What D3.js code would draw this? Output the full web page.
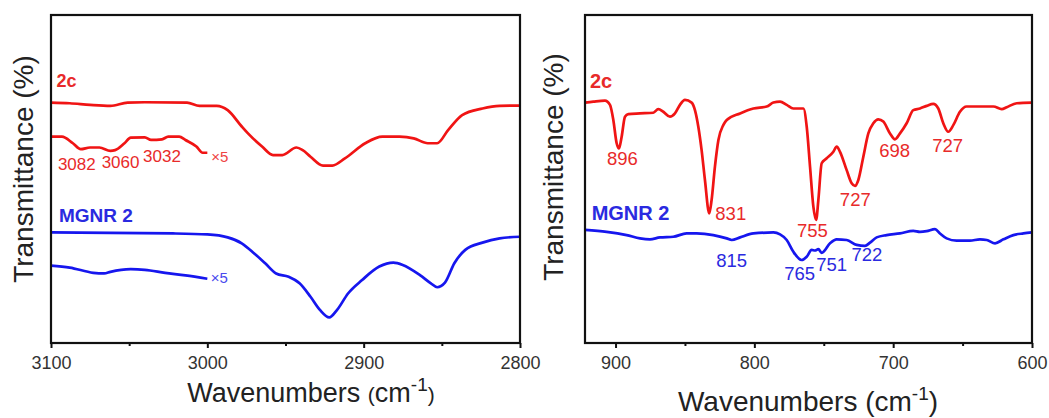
<!DOCTYPE html>
<html>
<head>
<meta charset="utf-8">
<script src="https://cdn.jsdelivr.net/npm/d3@7"></script>
<style>
  body { margin: 0; background: #fff; }
  svg text { font-family: "Liberation Sans", Arial, sans-serif; }
</style>
</head>
<body>
<div id="main"></div>
<script>
// ---- data (transmittance in arbitrary units, 0 = bottom of frame, 100 = top) ----
var leftTicks = [3100, 3000, 2900, 2800],
    leftMinor = [3050, 2950, 2850],
    rightTicks = [900, 800, 700, 600],
    rightMinor = [850, 750, 650];

var wnL2c  = [3100, 3088, 3075, 3062, 3051, 3040, 3013, 3005, 2994, 2987, 2978, 2974, 2965, 2958, 2952, 2943, 2939, 2934, 2926, 2920, 2912, 2899, 2888, 2877, 2868, 2859, 2853, 2846, 2837, 2824, 2813, 2800];
var valL2c = [73.3, 73.1, 72.6, 72.3, 73.3, 73.4, 73.3, 72.3, 72.3, 71.0, 66.0, 63.9, 59.9, 57.3, 57.3, 59.6, 58.8, 56.8, 54.1, 54.1, 56.3, 60.9, 62.9, 62.9, 62.4, 60.9, 60.9, 64.9, 69.5, 71.5, 72.3, 72.4];

var wnL2cX5  = [3100, 3093, 3086, 3081, 3075, 3069, 3062, 3059, 3053, 3049, 3040, 3036, 3029, 3025, 3018, 3014, 3007, 3003, 3000];
var valL2cX5 = [62.9, 62.9, 60.9, 59.1, 59.6, 59.6, 58.6, 58.8, 60.9, 62.6, 62.7, 61.9, 62.1, 62.9, 62.9, 61.9, 59.9, 58.0, 58.0];

var wnLMg  = [3100, 3022, 3000, 2987, 2978, 2970, 2963, 2956, 2948, 2941, 2934, 2928, 2922, 2917, 2910, 2901, 2890, 2881, 2875, 2864, 2857, 2853, 2848, 2842, 2835, 2824, 2813, 2800];
var valLMg = [33.7, 33.4, 33.1, 32.2, 30.4, 27.3, 24.3, 21.2, 20.2, 18.2, 14.1, 10.1, 7.8, 10.1, 15.1, 19.2, 23.3, 24.5, 23.8, 20.7, 18.2, 17.0, 18.4, 24.3, 28.4, 30.6, 31.9, 32.4];

var wnLMgX5  = [3100, 3088, 3073, 3066, 3062, 3049, 3040, 3027, 3014, 3000];
var valLMgX5 = [23.6, 23.0, 21.4, 21.2, 21.7, 22.5, 22.3, 21.4, 20.6, 19.6];

var wnR2c  = [922, 916, 907.6, 904, 901.6, 899.2, 897.5, 895.6, 893.2, 890.8, 882.4, 872.8, 869.2, 865.6, 860.8, 857.2, 853.6, 850, 845.2, 842.8, 840.4, 838, 835.6, 832.5, 830.8, 828.4, 825.9, 822.3, 819.9, 810.3, 800.7, 791.1, 786.3, 781.5, 776.7, 771.9, 764.7, 762.3, 759.9, 757.5, 755.5, 753.9, 751.5, 747.9, 743.1, 740.7, 738.3, 733.5, 729.9, 727.5, 725.1, 721.5, 717.9, 714.3, 710.7, 707.1, 702.3, 698.7, 695.1, 690.3, 685.5, 680.7, 675.9, 671.1, 667.5, 663.9, 660.3, 656.6, 651.9, 647.1, 637.5, 627.8, 621.8, 618.2, 611, 600];
var valR2c = [73.3, 73.6, 73.9, 72.6, 68.0, 60.9, 59.3, 62.9, 69.0, 69.8, 70.0, 70.2, 71.3, 70.5, 69.0, 70.0, 72.6, 74.1, 73.3, 71.0, 66.0, 58.8, 49.7, 39.5, 43.6, 53.8, 61.9, 66.5, 68.0, 70.0, 71.5, 72.1, 73.3, 73.6, 72.6, 71.5, 71.5, 66.0, 53.8, 41.6, 37.5, 43.6, 54.8, 56.3, 58.3, 59.9, 58.3, 52.7, 48.7, 47.9, 49.7, 56.8, 63.9, 67.0, 68.2, 67.5, 63.9, 62.1, 63.9, 67.0, 71.0, 71.5, 72.3, 72.9, 71.5, 67.0, 64.4, 66.5, 70.5, 72.1, 72.1, 72.1, 71.3, 71.9, 73.1, 73.3];

var wnRMg  = [922, 906.4, 892, 882.4, 875.2, 868, 858.4, 848.8, 841.6, 829.6, 819.9, 816.3, 810.3, 800.7, 786.3, 781.5, 776.7, 771.9, 765.9, 762.3, 758.7, 756.3, 753.9, 751.5, 745.5, 740.7, 733.5, 726.3, 720.3, 716.7, 711.9, 704.7, 695.1, 685.5, 680.7, 675.9, 669.9, 666.3, 661.5, 654.3, 644.7, 637.5, 632.6, 626.6, 620.6, 613.4, 606.2, 600];
var valRMg = [34.5, 33.9, 32.9, 31.9, 31.6, 32.2, 32.4, 33.4, 33.4, 32.9, 31.9, 31.4, 32.2, 33.4, 33.7, 33.1, 31.4, 27.8, 25.3, 26.3, 28.4, 28.2, 28.6, 27.5, 30.4, 31.6, 31.4, 29.9, 29.6, 30.6, 32.2, 32.9, 33.4, 34.2, 33.9, 34.1, 34.7, 33.4, 31.9, 31.2, 31.2, 31.6, 31.4, 30.4, 31.6, 32.9, 33.4, 33.7];

// peak labels: [text, wavenumber, value]
var leftPeaks  = [["3082", 3083.5, 52.7], ["3060", 3055.5, 53.3], ["3032", 3029, 55.3]];
var rightPeaks2c = [["896", 895, 54.3], ["831", 817, 37.5], ["755", 758.2, 32.2], ["727", 727.3, 41.8], ["698", 698.9, 56.8], ["727", 660.7, 58.1]];
var rightPeaksMg = [["815", 816.3, 23.3], ["765", 767.4, 19.2], ["751", 744.3, 22.1], ["722", 718.9, 25.1]];

var RED = "#f01414", BLUE = "#1616ee";
var RED_TXT = "#e82a2a", BLUE_TXT = "#2a2ae0";

var svg = d3.select("#main")
  .append("svg")
    .attr("width", 1049)
    .attr("height", 418);

function zip(a, b) { return a.map(function(d, i) { return [d, b[i]]; }); }

function panel(opt) {
  var x = d3.scaleLinear().domain(opt.xDomain).range([opt.x0, opt.x1]);
  var y = d3.scaleLinear().domain([0, 100]).range([opt.y1, opt.y0]);

  var g = svg.append("g");

  // major ticks with labels
  g.append("g")
    .attr("transform", "translate(0," + opt.y1 + ")")
    .call(d3.axisBottom(x).tickValues(opt.ticks).tickSize(5).tickSizeOuter(0).tickPadding(8).tickFormat(d3.format("d")))
    .call(function(a) {
      a.select(".domain").remove();
      a.selectAll("line").attr("stroke", "#111").attr("stroke-width", 2);
      a.selectAll("text").style("font-size", "18px").attr("fill", "#333");
    });

  // minor ticks
  g.append("g")
    .attr("transform", "translate(0," + opt.y1 + ")")
    .call(d3.axisBottom(x).tickValues(opt.minor).tickSize(3).tickFormat(""))
    .call(function(a) {
      a.select(".domain").remove();
      a.selectAll("line").attr("stroke", "#111").attr("stroke-width", 2);
    });

  var line = d3.line()
    .x(function(d) { return x(d[0]); })
    .y(function(d) { return y(d[1]); })
    .curve(d3.curveMonotoneX);

  opt.series.forEach(function(s) {
    g.append("path")
      .attr("d", line(zip(s.wn, s.val)))
      .attr("fill", "none")
      .attr("stroke", s.color)
      .attr("stroke-width", 2.7)
      .attr("stroke-linejoin", "round");
  });

  // frame
  g.append("rect")
    .attr("x", opt.x0)
    .attr("y", opt.y0)
    .attr("width", opt.x1 - opt.x0)
    .attr("height", opt.y1 - opt.y0)
    .attr("fill", "none")
    .attr("stroke", "#111")
    .attr("stroke-width", 2.2);

  // y label
  g.append("text")
    .attr("transform", "translate(" + opt.yLabelX + "," + ((opt.y0 + opt.y1) / 2 + opt.yLabelDy) + ") rotate(-90)")
    .attr("text-anchor", "middle")
    .style("font-size", "28px")
    .attr("fill", "#222")
    .text("Transmittance (%)");

  return {x: x, y: y, g: g};
}

// ---- left panel ----
var L = panel({
  x0: 51, x1: 520, y0: 15, y1: 343,
  xDomain: [3100, 2800],
  ticks: leftTicks, minor: leftMinor,
  yLabelX: 33, yLabelDy: -10,
  series: [
    {wn: wnL2c, val: valL2c, color: RED},
    {wn: wnL2cX5, val: valL2cX5, color: RED},
    {wn: wnLMg, val: valLMg, color: BLUE},
    {wn: wnLMgX5, val: valLMgX5, color: BLUE}
  ]
});

// ---- right panel ----
var R = panel({
  x0: 585, x1: 1032, y0: 15, y1: 343,
  xDomain: [922, 600],
  ticks: rightTicks, minor: rightMinor,
  yLabelX: 563, yLabelDy: -12,
  series: [
    {wn: wnR2c, val: valR2c, color: RED},
    {wn: wnRMg, val: valRMg, color: BLUE}
  ]
});

// x labels
var tl = svg.append("text")
  .attr("x", 311).attr("y", 402)
  .attr("text-anchor", "middle")
  .style("font-size", "27px")
  .attr("fill", "#222");
tl.append("tspan").text("Wavenumbers ");
tl.append("tspan").style("font-size", "21px").text("(");
tl.append("tspan").text("cm");
tl.append("tspan").style("font-size", "19px").attr("dy", "-11").text("-1");
tl.append("tspan").style("font-size", "21px").attr("dy", "11").text(")");

var tr = svg.append("text")
  .attr("x", 808).attr("y", 411)
  .attr("text-anchor", "middle")
  .style("font-size", "28px")
  .attr("fill", "#222");
tr.append("tspan").text("Wavenumbers (cm");
tr.append("tspan").style("font-size", "19px").attr("dy", "-11").text("-1");
tr.append("tspan").attr("dy", "11").text(")");

// series names
L.g.append("text").attr("x", L.x(3096.5)).attr("y", L.y(77.9))
  .style("font-size", "18px").style("font-weight", "bold").attr("fill", RED_TXT).text("2c");
L.g.append("text").attr("x", L.x(3094.9)).attr("y", L.y(37))
  .style("font-size", "19px").style("font-weight", "bold").attr("fill", BLUE_TXT).text("MGNR 2");
R.g.append("text").attr("x", R.x(918.4)).attr("y", R.y(77.6))
  .style("font-size", "20px").style("font-weight", "bold").attr("fill", RED_TXT).text("2c");
R.g.append("text").attr("x", R.x(917.2)).attr("y", R.y(37.5))
  .style("font-size", "20px").style("font-weight", "bold").attr("fill", BLUE_TXT).text("MGNR 2");

// x5 markers
L.g.append("text").attr("x", L.x(2997.5)).attr("y", L.y(55.1))
  .style("font-size", "15px").attr("fill", "#ee4444").text("\u00d75");
L.g.append("text").attr("x", L.x(2997.8)).attr("y", L.y(18.2))
  .style("font-size", "15px").attr("fill", "#4a4aee").text("\u00d75");

// peak labels
L.g.selectAll(".pk").data(leftPeaks).enter().append("text")
  .attr("x", function(d) { return L.x(d[1]); })
  .attr("y", function(d) { return L.y(d[2]); })
  .attr("text-anchor", "middle")
  .style("font-size", "17px")
  .attr("fill", RED_TXT)
  .text(function(d) { return d[0]; });

R.g.selectAll(".pk2c").data(rightPeaks2c).enter().append("text")
  .attr("x", function(d) { return R.x(d[1]); })
  .attr("y", function(d) { return R.y(d[2]); })
  .attr("text-anchor", "middle")
  .style("font-size", "18.5px")
  .attr("fill", RED_TXT)
  .text(function(d) { return d[0]; });

R.g.selectAll(".pkmg").data(rightPeaksMg).enter().append("text")
  .attr("x", function(d) { return R.x(d[1]); })
  .attr("y", function(d) { return R.y(d[2]); })
  .attr("text-anchor", "middle")
  .style("font-size", "18.5px")
  .attr("fill", BLUE_TXT)
  .text(function(d) { return d[0]; });
</script>
</body>
</html>
